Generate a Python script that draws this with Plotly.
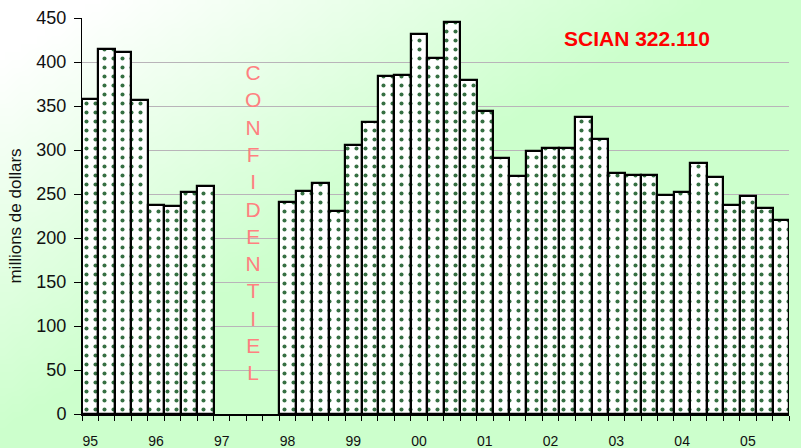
import base64
import struct
import zlib

import plotly.graph_objects as go

# Données trimestrielles (millions de dollars), 1995 T1 à 2005 T3 ; 1997 confidentiel
years = ['95', '96', '97', '98', '99', '00', '01', '02', '03', '04', '05']
values = [
    358, 415, 411, 357,
    237, 236, 252, 259,
    None, None, None, None,
    241, 253, 263, 231,
    306, 332, 384, 385,
    432, 405, 446, 380,
    344, 291, 270, 299,
    302, 302, 337, 312,
    274, 272, 272, 249,
    252, 285, 269, 237,
    248, 234, 220,
]
y_ticks = list(range(0, 451, 50))
confidential_text = 'CONFIDENTIEL'
title_text = 'SCIAN 322.110'

W, H = 801, 448
L, R, T, B = 82, 12, 18, 34
PW, PH = W - L - R, H - T - B


def gradient_png(w=100, h=56):
    # fond dégradé : blanc en haut à gauche vers vert pâle en bas à droite
    rows = b''
    for j in range(h):
        row = b'\x00'
        for i in range(w):
            t = (i / w) * 1.3 + (j / h) * 1.2 - 0.15
            t = max(0.0, min(1.0, t))
            r = int(round(255 - t * (255 - 204)))
            row += bytes([r, 255, r])
        rows += row
    def chunk(tag, data):
        c = struct.pack('>I', len(data)) + tag + data
        return c + struct.pack('>I', zlib.crc32(tag + data) & 0xffffffff)
    png = b'\x89PNG\r\n\x1a\n'
    png += chunk(b'IHDR', struct.pack('>IIBBBBB', w, h, 8, 2, 0, 0, 0))
    png += chunk(b'IDAT', zlib.compress(rows, 9))
    png += chunk(b'IEND', b'')
    return 'data:image/png;base64,' + base64.b64encode(png).decode()


x = list(range(len(values)))

fig = go.Figure()
fig.add_trace(go.Bar(
    x=x,
    y=values,
    width=1.0,
    marker=dict(
        color='white',
        line=dict(color='black', width=2.2),
        pattern=dict(shape='.', fgcolor='#356f42', bgcolor='white',
                     size=9, solidity=0.16, fillmode='replace'),
    ),
    showlegend=False,
    hoverinfo='skip',
))

year_pos = [4 * i for i in range(len(years))]

fig.update_layout(
    width=W, height=H,
    margin=dict(l=L, r=R, t=T, b=B, autoexpand=False),
    paper_bgcolor='rgba(0,0,0,0)',
    plot_bgcolor='rgba(0,0,0,0)',
    bargap=0,
    font=dict(family='Liberation Sans, Arial, sans-serif', color='#111'),
    images=[dict(
        source=gradient_png(),
        xref='paper', yref='paper',
        x=-L / PW, y=1 + T / PH,
        sizex=W / PW, sizey=H / PH,
        xanchor='left', yanchor='top',
        sizing='stretch', layer='below',
    )],
    xaxis=dict(
        range=[-0.5, len(values) - 0.5],
        automargin=False,
        tickmode='array',
        tickvals=year_pos,
        ticktext=years,
        ticks='',
        ticklabelstandoff=13,
        tickfont=dict(size=14),
        showgrid=False,
        zeroline=False,
        showline=True, linecolor='black', linewidth=1.5,
        minor=dict(tickmode='linear', tick0=-0.5, dtick=1,
                   ticks='outside', ticklen=5, tickcolor='black',
                   tickwidth=1, showgrid=False),
    ),
    yaxis=dict(
        range=[0, 450],
        automargin=False,
        tickvals=y_ticks,
        ticks='outside', ticklen=7, tickcolor='black',
        ticklabelstandoff=4,
        tickfont=dict(size=18),
        showgrid=True, gridcolor='#b9b4b9', gridwidth=1,
        zeroline=False,
        showline=True, linecolor='black', linewidth=1,
        title=dict(text='millions de dollars', font=dict(size=17), standoff=10),
    ),
    annotations=[
        dict(text='<b>' + title_text + '</b>', xref='paper', yref='paper',
             x=(637 - L) / PW, y=1 - (38 - T) / PH,
             xanchor='center', yanchor='middle', showarrow=False,
             font=dict(size=21, color='#ff0000')),
        dict(text='<br>'.join(confidential_text), xref='paper', yref='paper',
             x=(253 - L) / PW, y=1 - (222 - T) / PH,
             xanchor='center', yanchor='middle', showarrow=False,
             font=dict(size=21, color='#ff8080')),
    ],
)

# la page a une marge de 8 px par défaut : on la retire pour caler la figure
fig.write_html('out.html',
               config={'displayModeBar': False},
               post_script="document.body.style.margin='0';"
                           "document.body.style.overflow='hidden';")
